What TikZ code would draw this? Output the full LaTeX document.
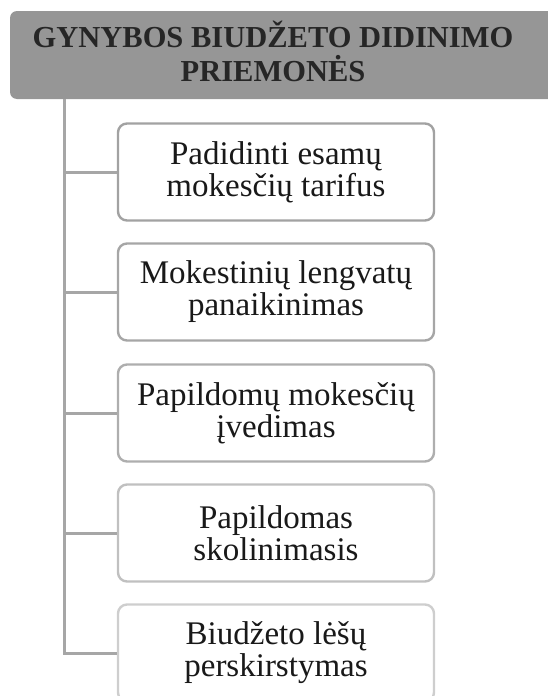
\documentclass[tikz,border=0pt]{standalone}
\usepackage{fontspec}
\setmainfont{Liberation Serif}
\definecolor{hdrfill}{HTML}{969696}
\definecolor{hdrtext}{HTML}{262626}
\definecolor{conncol}{HTML}{A6A6A6}
\definecolor{bc1}{HTML}{A2A2A2}
\definecolor{bc2}{HTML}{A6A6A6}
\definecolor{bc3}{HTML}{AEAEAE}
\definecolor{bc4}{HTML}{C0C0C0}
\definecolor{bc5}{HTML}{CECECE}
\tikzset{
  childbox/.style={draw, line width=2.4pt, rounded corners=9pt, fill=white,
    minimum width=316pt, minimum height=97pt, align=center, inner sep=0pt,
    font=\fontsize{33}{32}\selectfont, text=black!90},
  conn/.style={draw=conncol, line width=3pt},
  hdrtxt/.style={align=center, font=\fontsize{30.5}{34}\selectfont\bfseries, text=hdrtext, inner sep=0pt}
}
\begin{document}
\begin{tikzpicture}[x=1pt,y=-1pt]
\useasboundingbox (0,0) rectangle (548,696);
\fill[hdrfill, rounded corners=7pt] (10,11) rectangle (570,99);
\node[hdrtxt] (hdr) at (273,51) {GYNYBOS BIUDŽETO DIDINIMO\\PRIEMONĖS};
\coordinate (trunk) at (64,99);
\node[childbox, draw=bc1] (b1) at (276,172) {Padidinti esamų\\mokesčių tarifus};
\node[childbox, draw=bc2] (b2) at (276,292) {Mokestinių lengvatų\\panaikinimas};
\node[childbox, draw=bc3] (b3) at (276,413) {Papildomų mokesčių\\įvedimas};
\node[childbox, draw=bc4] (b4) at (276,533) {Papildomas\\skolinimasis};
\node[childbox, draw=bc5] (b5) at (276,653) {Biudžeto lėšų\\perskirstymas};
\draw[conn] (trunk) |- (b5.west);
\foreach \b in {b1,b2,b3,b4}{
  \draw[conn] (trunk |- \b.west) -- (\b.west);
}
\end{tikzpicture}
\end{document}
